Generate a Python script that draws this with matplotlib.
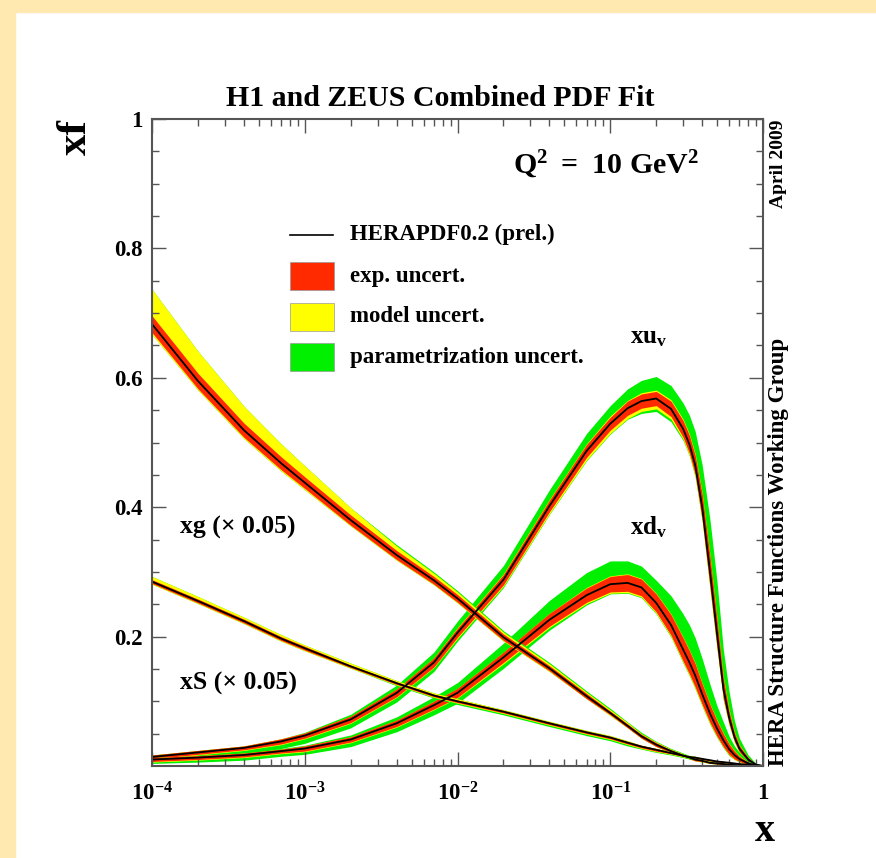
import numpy as np
import matplotlib
matplotlib.use('Agg')
import matplotlib.pyplot as plt
from matplotlib.patches import Rectangle
from matplotlib.lines import Line2D
from matplotlib.ticker import FixedLocator, NullFormatter

plt.rcParams['font.family'] = ['Liberation Serif', 'DejaVu Serif']
plt.rcParams['font.weight'] = 'bold'
plt.rcParams['mathtext.fontset'] = 'custom'
plt.rcParams['mathtext.rm'] = 'Liberation Serif:bold'
plt.rcParams['mathtext.it'] = 'Liberation Serif:bold'
plt.rcParams['mathtext.bf'] = 'Liberation Serif:bold'

# x grid shared by all PDFs
X = [1e-4, 2e-4, 4e-4, 7e-4, 1e-3, 2e-3, 4e-3, 7e-3, 1e-2, 2e-2,
     4e-2, 7e-2, 0.1, 0.13, 0.16, 0.2, 0.25, 0.3, 0.33, 0.36,
     0.4, 0.45, 0.5, 0.55, 0.6, 0.65, 0.7, 0.8, 0.9, 1.0]

# xg (x 0.05): central value and band half-widths (exp / model / parametrization)
xg = [0.683, 0.595, 0.519, 0.468, 0.438, 0.380, 0.326, 0.287, 0.259, 0.199,
      0.151, 0.108, 0.082, 0.062, 0.046, 0.033, 0.023, 0.016, 0.013, 0.010,
      0.008, 0.005, 0.004, 0.003, 0.002, 0.0015, 0.001, 0.0005, 0.0, 0.0]
xg_exp = [0.013, 0.012, 0.011, 0.010, 0.009, 0.008, 0.007, 0.006, 0.006, 0.005,
          0.004, 0.004, 0.003, 0.003, 0.003, 0.003, 0.002, 0.002, 0.002, 0.002,
          0.001, 0.001, 0.001, 0.001, 0.001, 0.0005, 0.0005, 0.0003, 0.0, 0.0]
xg_mod_dn = [0.016, 0.014, 0.013, 0.012, 0.011, 0.009, 0.008, 0.007, 0.007, 0.006,
             0.005, 0.004, 0.004, 0.003, 0.003, 0.003, 0.003, 0.002, 0.002, 0.002,
             0.002, 0.001, 0.001, 0.001, 0.001, 0.0005, 0.0005, 0.0003, 0.0, 0.0]
xg_mod_up = [0.054, 0.046, 0.037, 0.030, 0.026, 0.019, 0.014, 0.011, 0.010, 0.008,
             0.007, 0.006, 0.005, 0.005, 0.004, 0.004, 0.003, 0.003, 0.002, 0.002,
             0.002, 0.002, 0.001, 0.001, 0.001, 0.001, 0.001, 0.0005, 0.0, 0.0]
xg_par_dn = xg_mod_dn
xg_par_up = [0.054, 0.046, 0.037, 0.030, 0.026, 0.019, 0.016, 0.013, 0.012, 0.010,
             0.009, 0.008, 0.007, 0.006, 0.006, 0.005, 0.004, 0.004, 0.003, 0.003,
             0.003, 0.002, 0.002, 0.002, 0.001, 0.001, 0.001, 0.0005, 0.0, 0.0]

# xS (x 0.05)
xs = [0.285, 0.255, 0.224, 0.197, 0.182, 0.154, 0.128, 0.109, 0.100, 0.084,
      0.066, 0.052, 0.044, 0.036, 0.030, 0.025, 0.020, 0.016, 0.014, 0.013,
      0.011, 0.009, 0.007, 0.006, 0.005, 0.004, 0.003, 0.002, 0.001, 0.0]
xs_exp = [0.003, 0.003, 0.003, 0.003, 0.003, 0.002, 0.002, 0.002, 0.002, 0.002,
          0.002, 0.002, 0.002, 0.002, 0.002, 0.002, 0.001, 0.001, 0.001, 0.001,
          0.001, 0.001, 0.001, 0.001, 0.001, 0.001, 0.001, 0.0005, 0.0, 0.0]
xs_mod_dn = [0.004, 0.004, 0.004, 0.004, 0.004, 0.003, 0.003, 0.003, 0.003, 0.003,
             0.003, 0.003, 0.003, 0.003, 0.003, 0.003, 0.002, 0.002, 0.002, 0.002,
             0.002, 0.002, 0.001, 0.001, 0.001, 0.001, 0.001, 0.0005, 0.0, 0.0]
xs_mod_up = [0.008, 0.007, 0.006, 0.006, 0.005, 0.005, 0.004, 0.004, 0.004, 0.003,
             0.003, 0.003, 0.003, 0.003, 0.002, 0.002, 0.002, 0.002, 0.002, 0.002,
             0.001, 0.001, 0.001, 0.001, 0.001, 0.001, 0.001, 0.0005, 0.0, 0.0]
xs_par_dn = [0.004, 0.004, 0.004, 0.004, 0.004, 0.003, 0.004, 0.004, 0.005, 0.005,
             0.005, 0.005, 0.005, 0.005, 0.004, 0.004, 0.003, 0.003, 0.003, 0.003,
             0.002, 0.002, 0.002, 0.002, 0.001, 0.001, 0.001, 0.0005, 0.0, 0.0]
xs_par_up = xs_mod_up

# xu_v
xuv = [0.014, 0.021, 0.028, 0.038, 0.047, 0.072, 0.113, 0.160, 0.206, 0.288,
       0.402, 0.487, 0.529, 0.553, 0.564, 0.568, 0.552, 0.521, 0.497, 0.465,
       0.400, 0.300, 0.205, 0.120, 0.075, 0.045, 0.027, 0.010, 0.002, 0.0]
xuv_exp = [0.003, 0.003, 0.003, 0.004, 0.004, 0.005, 0.006, 0.007, 0.007, 0.008,
           0.009, 0.010, 0.010, 0.011, 0.011, 0.011, 0.012, 0.013, 0.014, 0.015,
           0.020, 0.024, 0.022, 0.016, 0.010, 0.007, 0.005, 0.003, 0.001, 0.0]
xuv_mod_dn = [0.004, 0.004, 0.004, 0.005, 0.005, 0.006, 0.007, 0.008, 0.009, 0.010,
              0.012, 0.014, 0.015, 0.016, 0.016, 0.016, 0.016, 0.016, 0.017, 0.018,
              0.022, 0.026, 0.024, 0.018, 0.012, 0.008, 0.006, 0.003, 0.001, 0.0]
xuv_mod_up = [0.003, 0.003, 0.003, 0.004, 0.004, 0.005, 0.006, 0.007, 0.008, 0.009,
              0.010, 0.011, 0.012, 0.012, 0.013, 0.013, 0.014, 0.015, 0.016, 0.017,
              0.022, 0.026, 0.024, 0.018, 0.012, 0.008, 0.006, 0.003, 0.001, 0.0]
xuv_par_dn = [0.008, 0.009, 0.010, 0.011, 0.012, 0.013, 0.014, 0.014, 0.013, 0.012,
              0.013, 0.015, 0.016, 0.017, 0.019, 0.020, 0.020, 0.018, 0.018, 0.019,
              0.022, 0.026, 0.024, 0.018, 0.012, 0.008, 0.006, 0.003, 0.001, 0.0]
xuv_par_up = [0.003, 0.003, 0.003, 0.004, 0.005, 0.008, 0.012, 0.016, 0.018, 0.022,
              0.025, 0.027, 0.028, 0.030, 0.032, 0.034, 0.036, 0.040, 0.045, 0.052,
              0.065, 0.080, 0.080, 0.060, 0.040, 0.025, 0.016, 0.007, 0.002, 0.0]

# xd_v
xdv = [0.010, 0.013, 0.017, 0.023, 0.027, 0.041, 0.066, 0.094, 0.113, 0.168,
       0.226, 0.264, 0.281, 0.283, 0.276, 0.252, 0.218, 0.180, 0.160, 0.140,
       0.111, 0.081, 0.058, 0.040, 0.026, 0.017, 0.011, 0.004, 0.001, 0.0]
xdv_exp = [0.003, 0.003, 0.003, 0.003, 0.004, 0.004, 0.005, 0.006, 0.007, 0.008,
           0.010, 0.011, 0.012, 0.013, 0.013, 0.014, 0.016, 0.018, 0.018, 0.018,
           0.016, 0.014, 0.012, 0.010, 0.008, 0.006, 0.004, 0.002, 0.001, 0.0]
xdv_mod_dn = [0.004, 0.004, 0.004, 0.004, 0.005, 0.005, 0.006, 0.007, 0.008, 0.010,
              0.012, 0.013, 0.014, 0.015, 0.015, 0.016, 0.018, 0.020, 0.020, 0.020,
              0.018, 0.016, 0.013, 0.011, 0.009, 0.007, 0.005, 0.002, 0.001, 0.0]
xdv_mod_up = [0.003, 0.003, 0.003, 0.003, 0.004, 0.004, 0.005, 0.006, 0.007, 0.008,
              0.010, 0.012, 0.013, 0.014, 0.014, 0.015, 0.017, 0.019, 0.019, 0.019,
              0.017, 0.015, 0.013, 0.011, 0.009, 0.007, 0.005, 0.002, 0.001, 0.0]
xdv_par_dn = [0.006, 0.007, 0.008, 0.008, 0.009, 0.011, 0.013, 0.015, 0.016, 0.017,
              0.016, 0.015, 0.015, 0.016, 0.016, 0.017, 0.019, 0.021, 0.021, 0.021,
              0.019, 0.017, 0.014, 0.012, 0.010, 0.007, 0.005, 0.002, 0.001, 0.0]
xdv_par_up = [0.003, 0.003, 0.003, 0.004, 0.005, 0.007, 0.010, 0.013, 0.016, 0.022,
              0.030, 0.035, 0.036, 0.034, 0.033, 0.035, 0.045, 0.055, 0.058, 0.058,
              0.055, 0.045, 0.035, 0.028, 0.020, 0.014, 0.010, 0.004, 0.001, 0.0]

RED = '#ff2a00'
YEL = '#ffff00'
GRN = '#00f000'
BORDER = '#ffe9b0'

x_ticks = [1e-4, 1e-3, 1e-2, 1e-1, 1]
x_ticklabels = [r'$10^{-4}$', r'$10^{-3}$', r'$10^{-2}$', r'$10^{-1}$', '1']
y_ticks = [0.2, 0.4, 0.6, 0.8, 1.0]
y_ticklabels = ['0.2', '0.4', '0.6', '0.8', '1']


def draw_pdf(ax, c, exp, mdn, mup, pdn, pup):
    c = np.array(c)
    ax.fill_between(X, c - np.array(pdn), c + np.array(pup), color=GRN, lw=0)
    ax.fill_between(X, c - np.array(mdn), c + np.array(mup), color=YEL, lw=0)
    ax.fill_between(X, c - np.array(exp), c + np.array(exp), color=RED, lw=0)
    ax.plot(X, c, color='black', lw=1.3)


fig = plt.figure(figsize=(8.76, 8.58), dpi=100)
fig.patches.append(Rectangle((0, 0), 15 / 876, 1, transform=fig.transFigure,
                             color=BORDER, zorder=0))
fig.patches.append(Rectangle((0, 1 - 12 / 858), 1, 12 / 858, transform=fig.transFigure,
                             color=BORDER, zorder=0))

ax = fig.add_axes([152 / 876, (858 - 766) / 858, 611 / 876, 647 / 858])

draw_pdf(ax, xuv, xuv_exp, xuv_mod_dn, xuv_mod_up, xuv_par_dn, xuv_par_up)
draw_pdf(ax, xdv, xdv_exp, xdv_mod_dn, xdv_mod_up, xdv_par_dn, xdv_par_up)
draw_pdf(ax, xg, xg_exp, xg_mod_dn, xg_mod_up, xg_par_dn, xg_par_up)
draw_pdf(ax, xs, xs_exp, xs_mod_dn, xs_mod_up, xs_par_dn, xs_par_up)

ax.set_xscale('log')
ax.set_xlim(1e-4, 1)
ax.set_ylim(0, 1)
ax.set_xticks(x_ticks)
ax.set_xticklabels(x_ticklabels)
ax.set_yticks(y_ticks)
ax.set_yticklabels(y_ticklabels)
ax.yaxis.set_minor_locator(FixedLocator(np.arange(0.05, 1.0, 0.05)))
ax.xaxis.set_minor_formatter(NullFormatter())
ax.tick_params(which='both', direction='in', top=True, right=True,
               labelsize=16.5, pad=7, color='#555555')
ax.tick_params(which='major', length=10, width=1)
ax.tick_params(which='minor', length=5, width=1)
ax.tick_params(axis='x', pad=12)
for lab in ax.get_xticklabels() + ax.get_yticklabels():
    lab.set_fontweight('bold')
for sp in ax.spines.values():
    sp.set_color('#555555')
    sp.set_linewidth(1.5)

# legend drawn by hand, like the ROOT box
T = ax.transAxes
ax.add_line(Line2D([0.226, 0.296], [0.821, 0.821], transform=T, color='black', lw=1.2))
box_y = [0.757, 0.694, 0.632]
for yy, col in zip(box_y, [RED, YEL, GRN]):
    ax.add_patch(Rectangle((0.226, yy - 0.022), 0.072, 0.044, transform=T,
                           facecolor=col, edgecolor='#999999', lw=0.5))
leg_text = ['HERAPDF0.2 (prel.)', 'exp. uncert.', 'model uncert.', 'parametrization uncert.']
for yy, s in zip([0.821] + box_y, leg_text):
    ax.text(0.324, yy, s, transform=T, fontsize=16.5, fontweight='bold', va='center', ha='left')

ax.text(0.591, 0.929, r'$\mathrm{Q^2\ =\ 10\ GeV^2}$', transform=T, fontsize=21.5,
        va='center', ha='left')
ax.text(0.782, 0.662, r'$\mathrm{xu_{v}}$', transform=T, fontsize=18, va='center', ha='left')
ax.text(0.782, 0.369, r'$\mathrm{xd_{v}}$', transform=T, fontsize=18, va='center', ha='left')
ax.text(0.046, 0.369, 'xg (× 0.05)', transform=T, fontsize=18.5, fontweight='bold',
        va='center', ha='left')
ax.text(0.046, 0.128, 'xS (× 0.05)', transform=T, fontsize=18.5, fontweight='bold',
        va='center', ha='left')

fig.text(0.502, 0.885, 'H1 and ZEUS Combined PDF Fit', fontsize=21.5, fontweight='bold',
         ha='center', va='center')
fig.text(0.0868, 0.840, 'xf', fontsize=31, fontweight='bold', rotation=90,
         ha='center', va='center')
fig.text(0.873, 0.031, 'x', fontsize=29, fontweight='bold', ha='center', va='center')
fig.text(0.889, 1 - 120 / 858, 'April 2009', fontsize=14, fontweight='bold', rotation=90,
         ha='center', va='top')
fig.text(0.889, (858 - 766) / 858, 'HERA Structure Functions Working Group', fontsize=16.5,
         fontweight='bold', rotation=90, ha='center', va='bottom')

fig.savefig('out.png', dpi=100)
